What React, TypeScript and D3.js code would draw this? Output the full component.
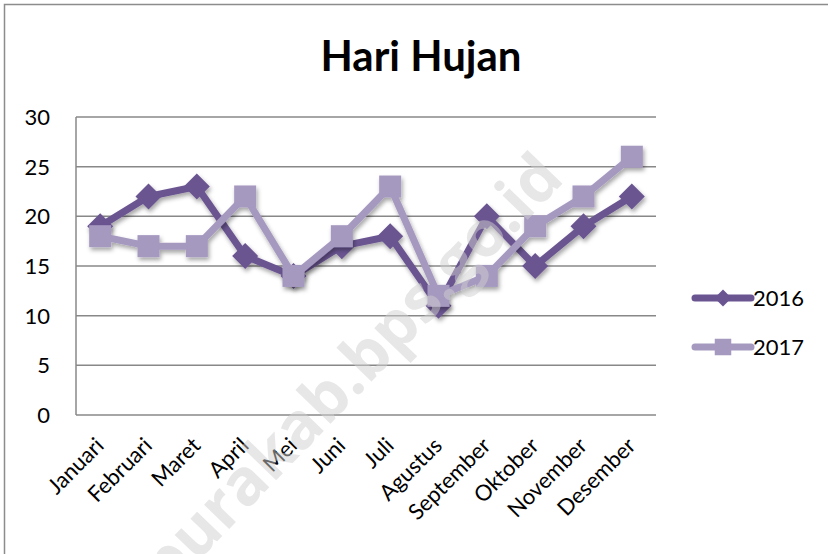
import { useRef, useEffect } from 'react';
import * as d3 from 'd3';

const months = ['Januari', 'Februari', 'Maret', 'April', 'Mei', 'Juni', 'Juli', 'Agustus', 'September', 'Oktober', 'November', 'Desember'];
const values2016 = [19, 22, 23, 16, 14, 17, 18, 11, 20, 15, 19, 22];
const values2017 = [18, 17, 17, 22, 14, 18, 23, 12, 14, 19, 22, 26];
const yTicks = [0, 5, 10, 15, 20, 25, 30];

const series = [
  { name: '2016', values: values2016, color: '#6a5591', shape: 'diamond' },
  { name: '2017', values: values2017, color: '#a699c0', shape: 'square' },
];

export default function App() {
  const ref = useRef<HTMLDivElement>(null);

  useEffect(() => {
    if (!ref.current) return;
    const width = 828;
    const height = 554;
    const font = 'Lato, "Open Sans", sans-serif';
    const left = 76, right = 656, top = 117, bottom = 415;

    d3.select(ref.current).selectAll('*').remove();

    const svg = d3.select(ref.current)
      .append('svg')
      .attr('width', width)
      .attr('height', height)
      .style('position', 'absolute')
      .style('left', '0px')
      .style('top', '0px')
      .style('background', '#fff');

    const defs = svg.append('defs');
    const f = defs.append('filter').attr('id', 'shadow')
      .attr('x', '-20%').attr('y', '-20%').attr('width', '140%').attr('height', '140%');
    f.append('feDropShadow')
      .attr('dx', 1.5).attr('dy', 3).attr('stdDeviation', 2)
      .attr('flood-color', '#000').attr('flood-opacity', 0.35);

    // outer frame
    svg.append('rect')
      .attr('x', 4.5).attr('y', 4.5)
      .attr('width', 860).attr('height', 600)
      .attr('fill', 'none').attr('stroke', '#8c8c8c').attr('stroke-width', 1.5);

    svg.append('text')
      .attr('x', 421).attr('y', 71)
      .attr('text-anchor', 'middle')
      .style('font-family', font)
      .style('font-size', '42px')
      .style('font-weight', 'bold')
      .text('Hari Hujan');

    const x = d3.scaleBand().domain(months).range([left, right]);
    const y = d3.scaleLinear().domain([0, 30]).range([bottom, top]);
    const cx = (m: string) => (x(m) ?? 0) + x.bandwidth() / 2;

    // gridlines
    svg.append('g').selectAll('line')
      .data(yTicks)
      .join('line')
      .attr('x1', left).attr('x2', right)
      .attr('y1', (d) => y(d)).attr('y2', (d) => y(d))
      .attr('stroke', '#888').attr('stroke-width', 1.5);

    svg.append('line')
      .attr('x1', left).attr('x2', left)
      .attr('y1', top).attr('y2', bottom)
      .attr('stroke', '#888').attr('stroke-width', 1.5);

    svg.append('g').selectAll('text')
      .data(yTicks)
      .join('text')
      .attr('x', 50).attr('y', (d) => y(d))
      .attr('dy', '0.36em')
      .attr('text-anchor', 'end')
      .style('font-family', font)
      .style('font-size', '22px')
      .text((d) => d);

    svg.append('g').selectAll('text')
      .data(months)
      .join('text')
      .attr('transform', (d) => `translate(${cx(d) + 5},${447}) rotate(-45)`)
      .attr('text-anchor', 'end')
      .style('font-family', font)
      .style('font-size', '22px')
      .text((d) => d);

    const line = d3.line<number>()
      .x((d, i) => cx(months[i]))
      .y((d) => y(d));

    const drawMarker = (g: any, shape: string, color: string, px: number, py: number, scale = 1) => {
      if (shape === 'diamond') {
        const s = 13 * scale;
        g.append('path')
          .attr('d', `M${px},${py - s}L${px + s},${py}L${px},${py + s}L${px - s},${py}Z`)
          .attr('fill', color);
      } else {
        const s = 22 * scale;
        g.append('rect')
          .attr('x', px - s / 2).attr('y', py - s / 2)
          .attr('width', s).attr('height', s)
          .attr('fill', color);
      }
    };

    series.forEach((s) => {
      const g = svg.append('g').attr('filter', 'url(#shadow)');
      g.append('path')
        .attr('d', line(s.values))
        .attr('fill', 'none')
        .attr('stroke', s.color)
        .attr('stroke-width', 7)
        .attr('stroke-linejoin', 'round');
      s.values.forEach((v, i) => drawMarker(g, s.shape, s.color, cx(months[i]), y(v)));
    });

    // legend
    const legendY = d3.scalePoint().domain(series.map((s) => s.name)).range([298, 347]);
    series.forEach((s) => {
      const ly = legendY(s.name) ?? 0;
      const g = svg.append('g');
      g.append('line')
        .attr('x1', 695).attr('x2', 751)
        .attr('y1', ly).attr('y2', ly)
        .attr('stroke', s.color).attr('stroke-width', 7)
        .attr('stroke-linecap', 'round');
      drawMarker(g, s.shape, s.color, 723, ly, s.shape === 'diamond' ? 0.65 : 0.75);
      g.append('text')
        .attr('x', 753).attr('y', ly)
        .attr('dy', '0.36em')
        .style('font-family', font)
        .style('font-size', '22px')
        .text(s.name);
    });

    // watermark
    svg.append('text')
      .attr('transform', 'translate(566,180) rotate(-46)')
      .attr('text-anchor', 'end')
      .style('font-family', '"Open Sans", sans-serif')
      .style('font-size', '64px')
      .style('font-weight', 'bold')
      .attr('fill', '#cfcfcf')
      .attr('fill-opacity', 0.5)
      .text('jayapurakab.bps.go.id');
  }, []);

  return <div ref={ref} />;
}
